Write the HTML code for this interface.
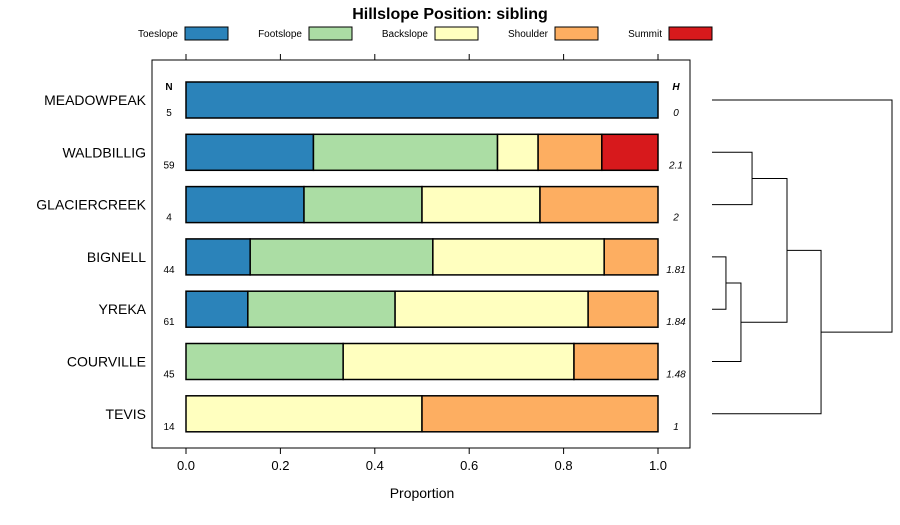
<!DOCTYPE html>
<html><head><meta charset="utf-8"><style>
body{margin:0;background:#fff;}
svg text{font-family:"Liberation Sans",sans-serif;}
</style></head><body>
<svg id="c" width="900" height="520" xmlns="http://www.w3.org/2000/svg">
<text x="450" y="19" text-anchor="middle" font-size="16" font-weight="bold">Hillslope Position: sibling</text>
<rect x="152" y="60" width="538" height="388" fill="none" stroke="#000" stroke-width="1"/>
<text x="422" y="498" text-anchor="middle" font-size="14">Proportion</text>
<text x="169" y="90" text-anchor="middle" font-size="10" font-weight="bold">N</text>
<text x="676" y="90" text-anchor="middle" font-size="10" font-weight="bold" font-style="italic">H</text>
<g id="legend"></g><g id="axes"></g><g id="bars"></g><g id="dendro"></g>
</svg>
<script>
const classes=["Toeslope","Footslope","Backslope","Shoulder","Summit"];
const colors=["#2B83BA","#ABDDA4","#FFFFBF","#FDAE61","#D7191C"];
const soils=["MEADOWPEAK","WALDBILLIG","GLACIERCREEK","BIGNELL","YREKA","COURVILLE","TEVIS"];
const toeslope=[1,0.27,0.25,0.136,0.131,0,0];
const footslope=[0,0.39,0.25,0.387,0.312,0.333,0];
const backslope=[0,0.086,0.25,0.363,0.409,0.489,0.5];
const shoulder=[0,0.135,0.25,0.114,0.148,0.178,0.5];
const summit=[0,0.119,0,0,0,0,0];
const nVals=["5","59","4","44","61","45","14"];
const hVals=["0","2.1","2","1.81","1.84","1.48","1"];
const ticks=[0,0.2,0.4,0.6,0.8,1.0];
const tickLabels=["0.0","0.2","0.4","0.6","0.8","1.0"];
// dendrogram merges: [leftNode,rightNode,height]; leaves 0..6, internal 7+
const merges=[[3,4,0.093],[7,5,0.193],[1,2,0.267],[8,9,0.5],[10,6,0.727],[0,11,1.2]];
const NS="http://www.w3.org/2000/svg";
function mk(t,a,p,txt){const e=document.createElementNS(NS,t);for(const k in a)e.setAttribute(k,a[k]);if(txt!==undefined)e.textContent=txt;p.appendChild(e);return e;}
const xS=v=>186+v*472;
const yS=i=>100+i*52.3;
const dX=h=>712+h*150;
const series=[toeslope,footslope,backslope,shoulder,summit];
const lg=document.getElementById('legend');
const lx=[178,302,428,548,662];
const rx=[185,309,435,555,669];
classes.forEach((c,i)=>{
 const t=mk('text',{x:lx[i],y:37,'text-anchor':'end','font-size':'10'},lg,c);
 
 
 const r=mk('rect',{x:rx[i],y:27,width:43,height:13,fill:colors[i],stroke:'#000'},lg);
 
 
});
const ax=document.getElementById('axes');
ticks.forEach((v,i)=>{
 const x=xS(v);
 mk('line',{x1:x,x2:x,y1:448,y2:454,stroke:'#000'},ax);
 mk('line',{x1:x,x2:x,y1:60,y2:54,stroke:'#000'},ax);
 const t=mk('text',{x:x,y:470,'text-anchor':'middle','font-size':'13'},ax,tickLabels[i]);
 
 
});
const bg=document.getElementById('bars');
soils.forEach((s,i)=>{
 const y=yS(i);
 const l=mk('text',{x:146,y:y+5,'text-anchor':'end','font-size':'14'},bg,s);
 
 
 let cum=0;
 series.forEach((ser,k)=>{
  const v=ser[i]; if(v<=0)return;
  const r=mk('rect',{x:xS(cum),y:y-18,width:xS(cum+v)-xS(cum),height:36,fill:colors[k],stroke:'#000','stroke-width':1.5},bg);
  
  
  cum+=v;
 });
 const n=mk('text',{x:169,y:y+16,'text-anchor':'middle','font-size':'10'},bg,nVals[i]);
 
 
 const h=mk('text',{x:676,y:y+16,'text-anchor':'middle','font-size':'10','font-style':'italic'},bg,hVals[i]);
 
 
});
const dg=document.getElementById('dendro');
const nodes=soils.map((s,i)=>({y:yS(i),h:0}));
merges.forEach(m=>{
 const a=nodes[m[0]],b=nodes[m[1]],x=dX(m[2]);
 const p=mk('path',{d:`M${dX(a.h)},${a.y}H${x}V${b.y}H${dX(b.h)}`,fill:'none',stroke:'#000'},dg);
 
 
 nodes.push({y:(a.y+b.y)/2,h:m[2]});
});
</script>
</body></html>
